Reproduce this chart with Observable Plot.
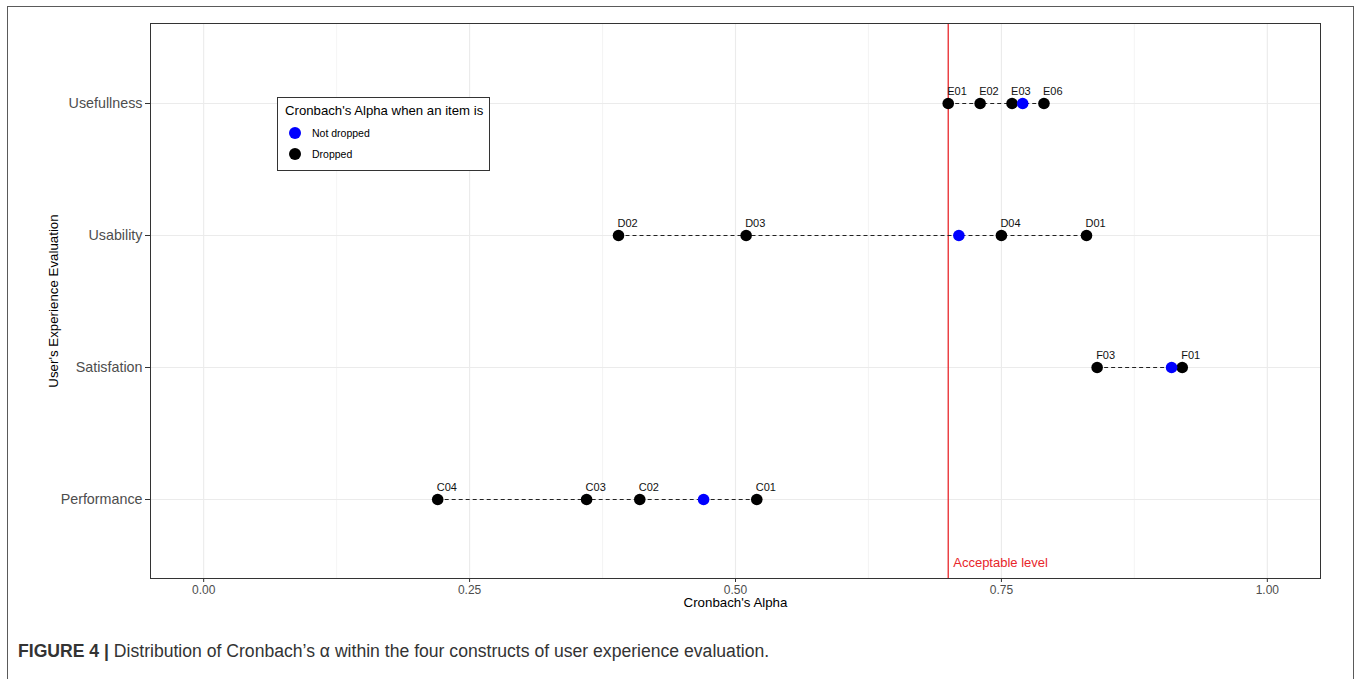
<!DOCTYPE html>
<html>
<head>
<meta charset="utf-8">
<script src="https://cdn.jsdelivr.net/npm/d3@7"></script>
<script src="https://cdn.jsdelivr.net/npm/@observablehq/plot@0.6"></script>
<style>
  html, body { margin: 0; padding: 0; background: #fff; }
  body { width: 1358px; height: 679px; position: relative; overflow: hidden; font-family: "Liberation Sans", Arial, sans-serif; }
  #frame { position: absolute; left: 7px; top: 6px; width: 1347px; height: 720px; border: 1.3px solid #5a5a5a; box-sizing: border-box; }
  #chart { position: absolute; left: 0; top: 0; }
  #legend { position: absolute; left: 277px; top: 97px; width: 213px; height: 74px; border: 1px solid #333; box-sizing: border-box; background: #fff; }
  #legend .title { position: absolute; left: 7px; top: 5px; font-size: 13.2px; color: #000; white-space: nowrap; }
  #legend .item { position: absolute; left: 11px; font-size: 10.5px; color: #000; white-space: nowrap; display: flex; align-items: center; }
  #legend .dot { display: inline-block; width: 12px; height: 12px; border-radius: 50%; margin-right: 11px; }
  #caption { position: absolute; left: 18px; top: 641px; font-size: 17.6px; color: #333; white-space: nowrap; font-family: "Liberation Sans", Arial, sans-serif; }
  #caption b { color: #333; }
</style>
</head>
<body>
<div id="frame"></div>
<div id="chart"></div>
<div id="legend"></div>
<div id="caption"></div>
<script>
// ---- data ----
const categories = ["Usefullness", "Usability", "Satisfation", "Performance"];
const notDroppedAlpha = [0.77, 0.71, 0.91, 0.47];
const itemLabels   = ["E01", "E02", "E03", "E06", "D02", "D03", "D04", "D01", "F03", "F01", "C04", "C03", "C02", "C01"];
const itemCategory = ["Usefullness", "Usefullness", "Usefullness", "Usefullness",
                      "Usability", "Usability", "Usability", "Usability",
                      "Satisfation", "Satisfation",
                      "Performance", "Performance", "Performance", "Performance"];
const itemAlpha    = [0.70, 0.73, 0.76, 0.79, 0.39, 0.51, 0.75, 0.83, 0.84, 0.92, 0.22, 0.36, 0.41, 0.52];
const acceptableLevel = 0.70;
const xTicks = [0, 0.25, 0.5, 0.75, 1];
const xMinorTicks = [0.125, 0.375, 0.625, 0.875];
const legendTitle = "Cronbach's Alpha when an item is";
const legendLabels = ["Not dropped", "Dropped"];
const legendColors = ["#0000ff", "#000000"];

// ---- derived tables ----
const dropped = itemLabels.map((label, i) => ({label, category: itemCategory[i], alpha: itemAlpha[i]}));
const kept = categories.map((c, i) => ({category: c, alpha: notDroppedAlpha[i]}));
const all = [...dropped, ...kept];
const segments = categories.map(c => {
  const vals = all.filter(d => d.category === c).map(d => d.alpha);
  return {category: c, lo: d3.min(vals), hi: d3.max(vals)};
});

const chart = Plot.plot({
  width: 1358,
  height: 625,
  marginTop: 23,
  marginLeft: 150,
  marginRight: 38,
  marginBottom: 47,
  style: {fontFamily: "Liberation Sans, Arial, sans-serif", background: "transparent", color: "#333"},
  x: {domain: [-0.05, 1.05]},
  y: {type: "point", domain: categories, padding: 0.6},
  marks: [
    Plot.ruleX(xMinorTicks, {stroke: "#efefef", strokeWidth: 0.7}),
    Plot.ruleX(xTicks, {stroke: "#ebebeb", strokeWidth: 1.1}),
    Plot.ruleY(categories, {y: d => d, stroke: "#ebebeb", strokeWidth: 1.1}),
    Plot.ruleX([acceptableLevel], {x: d => d, stroke: "#e8262b", strokeWidth: 1.3}),
    Plot.text(["Acceptable level"], {x: () => acceptableLevel, frameAnchor: "bottom", dy: -12, dx: 5, textAnchor: "start", fill: "#e8262b", fontSize: 13}),
    Plot.link(segments, {x1: "lo", x2: "hi", y1: "category", y2: "category", stroke: "#222", strokeWidth: 1.1, strokeDasharray: "4,3"}),
    Plot.dot(dropped, {x: "alpha", y: "category", r: 5.8, fill: "#000", stroke: "none"}),
    Plot.dot(kept, {x: "alpha", y: "category", r: 5.8, fill: "#0000ff", stroke: "none"}),
    Plot.text(dropped, {x: "alpha", y: "category", text: "label", textAnchor: "start", lineAnchor: "bottom", dy: -9, dx: -1, fontSize: 11, fill: "#111"}),
    Plot.frame({stroke: "#333", strokeWidth: 1}),
    Plot.axisX(xTicks, {tickSize: 4, tickPadding: 3, fontSize: 12, fill: "#4d4d4d", stroke: "#333", tickFormat: d3.format(".2f"), label: null}),
    Plot.axisY({tickSize: 5, tickPadding: 3, fontSize: 14.3, fill: "#4d4d4d", stroke: "#333", label: null}),
    Plot.text(["Cronbach's Alpha"], {frameAnchor: "bottom", dy: 28, fontSize: 13.3, fill: "#000"}),
    Plot.text(["User's Experience Evaluation"], {frameAnchor: "left", textAnchor: "middle", dx: -97, rotate: -90, fontSize: 13.3, fill: "#000"})
  ]
});
document.getElementById("chart").appendChild(chart);

// legend (HTML)
const legend = document.getElementById("legend");
legend.innerHTML = `<div class="title">${legendTitle}</div>` +
  legendLabels.map((l, i) => `<div class="item" style="top:${29 + i * 21}px"><span class="dot" style="background:${legendColors[i]}"></span>${l}</div>`).join("");

document.getElementById("caption").innerHTML =
  "<b>FIGURE 4 |</b> Distribution of Cronbach\u2019s \u03b1 within the four constructs of user experience evaluation.";
</script>
</body>
</html>
